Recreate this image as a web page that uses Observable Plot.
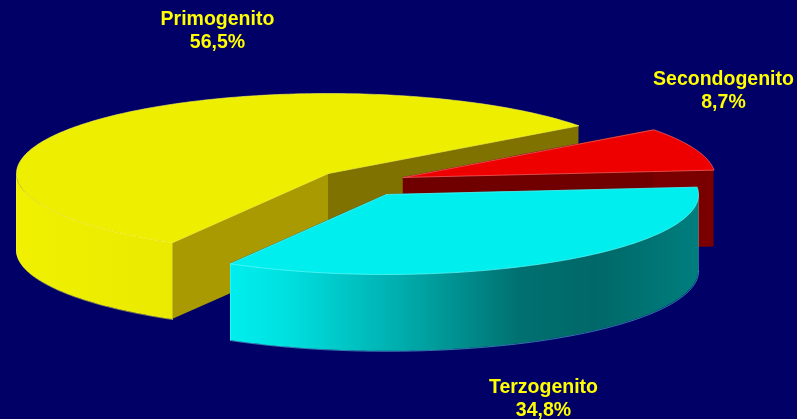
<!DOCTYPE html>
<html>
<head>
<meta charset="utf-8">
<style>html,body{margin:0;padding:0;background:#000066;overflow:hidden}svg{display:block}</style>
<script src="https://cdn.jsdelivr.net/npm/d3@7"></script>
<script src="https://cdn.jsdelivr.net/npm/@observablehq/plot@0.6"></script>
</head>
<body>
<script>
// Data
const categories = ["Primogenito", "Secondogenito", "Terzogenito"];
const shares = [56.5, 8.7, 34.8];

// Layout of the exploded 3-D pie, in unit-pie coordinates
const explodeX = [0, 0.24, 0.186];
const explodeY = [0, -0.05, -0.2625];
const labelX = [-0.356, 1.266, 0.689];
const labelY = [1.80, 1.05, -2.80];
const depth = 0.96;
const startDeg = -150;

// Colours
const topColors = ["#eeee00", "#ee0000", "#00eeee"];
const rimColors = ["#f6f650", "#ff7a7a", "#70ffff"];
const startCutColors = ["#a89a00", "#700000", "#008080"];
const endCutColors = ["#7f7200", "#7a0000", "#008080"];
const wallStops = [
  [["0%", "#f0f000"], ["100%", "#eaea00"]],
  [["0%", "#800000"], ["100%", "#800000"]],
  [["0%", "#00eeee"], ["12%", "#00e0e0"], ["35%", "#00b0b0"], ["62%", "#007070"], ["78%", "#006868"], ["100%", "#007e7e"]]
];

const rad = Math.PI / 180;
const arcs = d3.pie().sort(null).startAngle(startDeg * rad).endAngle((startDeg + 360) * rad)(shares);
const pt = (i, a) => ({x: explodeX[i] + Math.sin(a), y: explodeY[i] + Math.cos(a)});
const arcPts = (i, a0, a1) => {
  const n = Math.max(2, Math.ceil(Math.abs(a1 - a0) / rad));
  return d3.range(n + 1).map(k => pt(i, a0 + (a1 - a0) * k / n));
};
const apex = i => ({x: explodeX[i], y: explodeY[i]});
const bottom = p => p.y - depth;

const defs = () => {
  const g = d3.create("svg:defs");
  wallStops.forEach((stops, i) => {
    const lg = g.append("linearGradient").attr("id", "wall" + i);
    stops.forEach(([o, c]) => lg.append("stop").attr("offset", o).attr("stop-color", c));
  });
  return g.node();
};

const sliceMarks = (i) => {
  const {startAngle: a0, endAngle: a1} = arcs[i];
  const marks = [];
  // cut faces
  for (const [a, color] of [[a1, endCutColors[i]], [a0, startCutColors[i]]]) {
    marks.push(Plot.area([apex(i), pt(i, a)], {x1: "x", y1: "y", y2: bottom, fill: color}));
  }
  // front wall: the part of the arc on the near side (90..270 degrees from north)
  const turns = [-360, 0, 360];
  for (const t of turns) {
    const lo = Math.max(a0, (90 + t) * rad), hi = Math.min(a1, (270 + t) * rad);
    if (hi > lo) {
      const pts = arcPts(i, lo, hi);
      marks.push(Plot.area(pts, {x1: "x", y1: "y", y2: bottom, fill: `url(#wall${i})`}));
      marks.push(Plot.line(pts, {x: "x", y: bottom, stroke: rimColors[i], strokeWidth: 1, strokeOpacity: 0.45}));
      const e = pts[pts.length - 1], s = pts[0];
      marks.push(Plot.line([s, {x: s.x, y: bottom(s)}], {x: "x", y: "y", stroke: rimColors[i], strokeWidth: 1, strokeOpacity: 0.4}));
      marks.push(Plot.line([e, {x: e.x, y: bottom(e)}], {x: "x", y: "y", stroke: rimColors[i], strokeWidth: 1, strokeOpacity: 0.4}));
    }
  }
  // top face
  const face = [apex(i), ...arcPts(i, a0, a1), apex(i)];
  marks.push(Plot.line(face, {x: "x", y: "y", fill: topColors[i], stroke: rimColors[i], strokeWidth: 1, strokeOpacity: 0.6}));
  return marks;
};

const labels = categories.map((c, i) => ({
  text: `${c}\n${String(shares[i]).replace(".", ",")}%`,
  x: labelX[i],
  y: labelY[i]
}));

const chart = Plot.plot({
  width: 797,
  height: 419,
  margin: 0,
  x: {domain: [-1, 1], range: [16, 640], axis: null},
  y: {domain: [-1, 1], range: [253, 93], axis: null},
  style: {background: "#000066", filter: "blur(0.4px)"},
  marks: [
    defs,
    ...sliceMarks(0),
    ...sliceMarks(1),
    ...sliceMarks(2),
    Plot.text(labels, {
      x: "x", y: "y", text: "text",
      fill: "#ffff00",
      fontFamily: "Liberation Sans",
      fontWeight: "bold",
      fontSize: 19.5,
      lineHeight: 1.15
    })
  ]
});
document.body.appendChild(chart);
</script>
</body>
</html>
